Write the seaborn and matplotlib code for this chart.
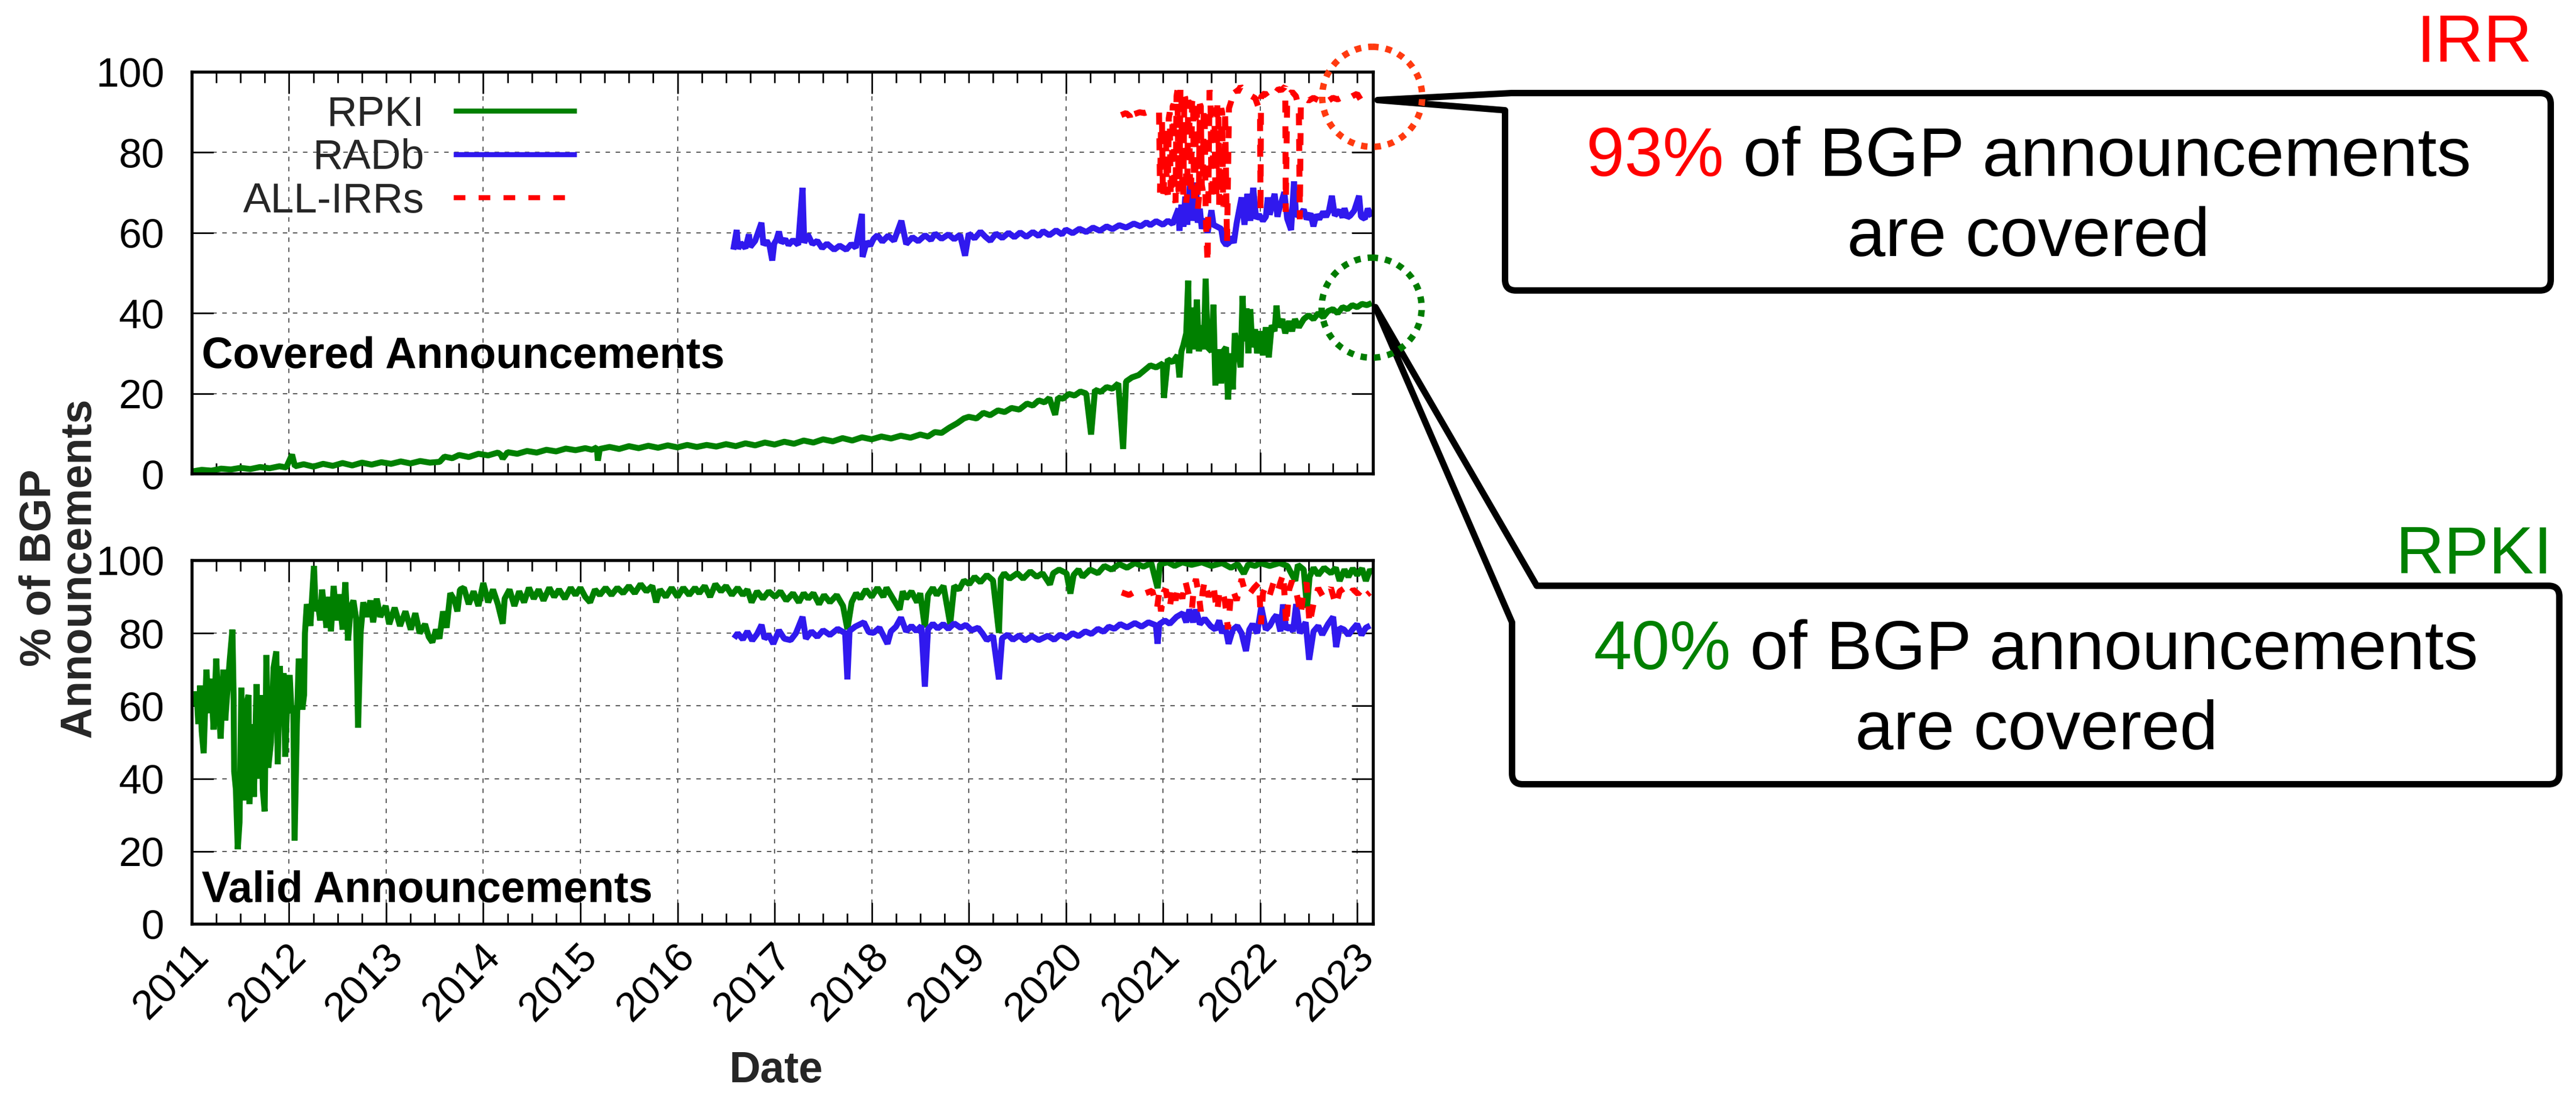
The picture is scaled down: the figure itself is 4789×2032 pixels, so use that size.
import matplotlib
matplotlib.use("Agg")
import matplotlib.pyplot as plt
import matplotlib.transforms as mtransforms
from matplotlib.lines import Line2D
from matplotlib.patches import PathPatch, Ellipse
from matplotlib.path import Path
from matplotlib.ticker import FixedLocator, MultipleLocator
import seaborn as sns

# ---------------- data: decimal year -> percent of BGP announcements ----------------
# Covered announcements (top panel)
rpki_cov_t = [2011.00, 2011.10, 2011.20, 2011.30, 2011.40, 2011.50, 2011.60, 2011.70, 2011.80, 2011.90,
              2011.97, 2012.03, 2012.06, 2012.15, 2012.25, 2012.35, 2012.45, 2012.55, 2012.65, 2012.75,
              2012.85, 2012.95, 2013.05, 2013.15, 2013.25, 2013.35, 2013.45, 2013.55, 2013.60, 2013.68,
              2013.75, 2013.85, 2013.95, 2014.05, 2014.15, 2014.18, 2014.20, 2014.25, 2014.35, 2014.45,
              2014.55, 2014.65, 2014.75, 2014.85, 2014.95, 2015.05, 2015.12, 2015.17, 2015.18, 2015.20,
              2015.30, 2015.40, 2015.50, 2015.60, 2015.70, 2015.80, 2015.90, 2016.00, 2016.10, 2016.20,
              2016.30, 2016.40, 2016.50, 2016.60, 2016.70, 2016.80, 2016.90, 2017.00, 2017.10, 2017.20,
              2017.30, 2017.40, 2017.50, 2017.60, 2017.70, 2017.80, 2017.90, 2018.00, 2018.10, 2018.20,
              2018.30, 2018.40, 2018.50, 2018.58, 2018.65, 2018.72, 2018.80, 2018.88, 2018.95, 2019.00,
              2019.08, 2019.15, 2019.22, 2019.30, 2019.37, 2019.44, 2019.52, 2019.60, 2019.66, 2019.72,
              2019.78, 2019.83, 2019.89, 2019.92, 2019.97, 2020.03, 2020.09, 2020.15, 2020.21, 2020.26,
              2020.30, 2020.36, 2020.42, 2020.48, 2020.54, 2020.59, 2020.62, 2020.68, 2020.75, 2020.81,
              2020.87, 2020.93, 2021.00, 2021.01, 2021.05, 2021.10, 2021.15, 2021.17, 2021.19, 2021.21,
              2021.24, 2021.26, 2021.27, 2021.30, 2021.32, 2021.35, 2021.37, 2021.40, 2021.42, 2021.44,
              2021.46, 2021.50, 2021.52, 2021.54, 2021.57, 2021.60, 2021.62, 2021.65, 2021.67, 2021.70,
              2021.72, 2021.74, 2021.77, 2021.80, 2021.82, 2021.84, 2021.86, 2021.88, 2021.90, 2021.92,
              2021.95, 2021.97, 2022.00, 2022.03, 2022.06, 2022.09, 2022.12, 2022.15, 2022.17, 2022.19,
              2022.23, 2022.26, 2022.30, 2022.33, 2022.36, 2022.40, 2022.45, 2022.50, 2022.55, 2022.60,
              2022.65, 2022.70, 2022.75, 2022.80, 2022.85, 2022.90, 2022.95, 2023.00, 2023.05, 2023.10,
              2023.15]
rpki_cov_v = [0.6, 1.0, 0.8, 1.3, 1.1, 1.5, 1.2, 1.7, 1.4, 1.9,
              1.6, 4.8, 1.9, 2.4, 1.8, 2.5, 2.0, 2.7, 2.1, 2.8,
              2.3, 2.9, 2.5, 3.1, 2.6, 3.2, 2.8, 3.0, 4.3, 3.9,
              4.7, 4.2, 5.0, 4.6, 5.3, 4.8, 3.8, 5.4, 5.0, 5.7,
              5.3, 6.0, 5.6, 6.3, 5.9, 6.4, 6.0, 6.6, 3.3, 6.2,
              6.7, 6.2, 6.9, 6.4, 7.0, 6.5, 7.1, 6.6, 7.2, 6.7,
              7.2, 6.8, 7.4, 6.9, 7.6, 7.1, 7.8, 7.3, 8.0, 7.5,
              8.3, 7.8, 8.6, 8.1, 8.9, 8.3, 9.1, 8.6, 9.3, 8.8,
              9.5, 9.0, 9.8, 9.3, 10.4, 10.2, 11.5, 12.6, 13.8, 14.2,
              13.8, 15.2, 14.6, 15.8, 15.4, 16.4, 16.0, 17.5, 17.0, 18.3,
              17.8, 18.9, 14.7, 19.0, 18.7, 19.9, 19.5, 20.5, 20.0, 9.8,
              20.9, 20.4, 21.6, 21.2, 22.5, 6.2, 23.0, 24.0, 24.6, 25.8,
              27.0, 26.5, 27.5, 18.9, 28.5, 27.8, 29.5, 24.0, 30.5, 32.0,
              35.0, 48.1, 30.0, 41.4, 31.0, 43.4, 30.5, 37.0, 31.0, 48.6,
              31.5, 30.5, 42.1, 22.0, 31.0, 22.5, 30.5, 31.5, 18.5, 30.0,
              21.0, 35.0, 32.0, 26.5, 44.3, 33.0, 41.2, 30.0, 41.0, 31.5,
              36.0, 30.0, 35.5, 29.5, 36.5, 29.0, 37.0, 35.5, 41.9, 36.5,
              38.5, 35.0, 38.0, 35.5, 38.5, 36.5, 38.5, 39.5, 38.5, 40.0,
              39.0, 40.5, 41.0, 40.0, 41.5, 41.0, 42.0, 41.5, 42.3, 42.0,
              42.5]

radb_cov_t = [2016.575, 2016.61, 2016.625, 2016.65, 2016.70, 2016.736, 2016.75, 2016.80, 2016.865, 2016.885,
              2016.92, 2016.95, 2016.976, 2016.996, 2017.02, 2017.045, 2017.07, 2017.11, 2017.144, 2017.19,
              2017.243, 2017.288, 2017.305, 2017.342, 2017.39, 2017.44, 2017.49, 2017.54, 2017.614, 2017.67,
              2017.738, 2017.79, 2017.837, 2017.90, 2017.906, 2017.95, 2017.985, 2018.02, 2018.06, 2018.11,
              2018.17, 2018.23, 2018.306, 2018.356, 2018.42, 2018.48, 2018.55, 2018.61, 2018.653, 2018.72,
              2018.79, 2018.85, 2018.91, 2018.962, 2019.00, 2019.06, 2019.12, 2019.172, 2019.222, 2019.28,
              2019.345, 2019.41, 2019.47, 2019.53, 2019.593, 2019.66, 2019.72, 2019.766, 2019.83, 2019.90,
              2019.96, 2020.00, 2020.07, 2020.14, 2020.21, 2020.28, 2020.35, 2020.42, 2020.48, 2020.55,
              2020.62, 2020.70, 2020.77, 2020.83, 2020.87, 2020.93, 2021.00, 2021.05, 2021.10, 2021.16,
              2021.17, 2021.19, 2021.21, 2021.23, 2021.25, 2021.28, 2021.30, 2021.32, 2021.34, 2021.36,
              2021.38, 2021.40, 2021.43, 2021.46, 2021.50, 2021.52, 2021.56, 2021.60, 2021.62, 2021.65,
              2021.68, 2021.70, 2021.73, 2021.76, 2021.81, 2021.84, 2021.87, 2021.90, 2021.93, 2021.96,
              2021.99, 2022.03, 2022.06, 2022.08, 2022.10, 2022.15, 2022.18, 2022.19, 2022.25, 2022.28,
              2022.32, 2022.35, 2022.37, 2022.41, 2022.45, 2022.48, 2022.52, 2022.55, 2022.58, 2022.61,
              2022.65, 2022.68, 2022.71, 2022.74, 2022.77, 2022.82, 2022.85, 2022.87, 2022.90, 2022.93,
              2022.97, 2023.02, 2023.04, 2023.08, 2023.11, 2023.15]
radb_cov_v = [55.8, 60.7, 56.0, 57.5, 56.2, 59.6, 56.5, 58.0, 62.5, 57.0,
              58.0, 56.6, 53.1, 57.3, 58.3, 60.3, 57.5, 58.4, 57.0, 58.2,
              57.0, 71.2, 57.5, 59.6, 57.2, 58.0, 56.2, 57.3, 55.8, 56.8,
              55.8, 57.2, 56.3, 64.7, 54.0, 57.8, 56.8, 58.5, 59.4, 57.8,
              59.3, 58.0, 63.0, 57.2, 58.9, 57.9, 59.4, 58.2, 59.8, 58.5,
              59.6, 58.4, 59.5, 54.3, 59.8, 58.6, 60.3, 59.0, 58.0, 59.8,
              58.7, 60.0, 58.9, 60.1, 59.0, 60.2, 59.2, 60.4, 59.4, 60.6,
              59.6, 60.8, 59.9, 61.0, 60.2, 61.3, 60.5, 61.6, 60.9, 61.9,
              61.3, 62.3, 61.6, 62.6, 61.9, 62.9, 62.0, 63.0, 62.2, 66.0,
              60.5, 67.0, 61.5, 69.0, 62.0, 72.8, 63.0, 68.0, 72.5, 62.5,
              66.0, 61.0, 63.5, 60.0, 65.6, 62.0, 61.5, 61.0, 58.0, 57.0,
              57.5, 59.0, 57.5, 62.5, 68.8, 62.0, 69.7, 63.0, 71.2, 63.5,
              64.5, 63.0, 64.0, 68.8, 64.5, 69.7, 64.0, 65.2, 70.1, 63.5,
              60.7, 72.8, 64.5, 64.3, 65.8, 63.4, 64.8, 61.6, 64.5, 63.4,
              65.2, 64.0, 65.5, 69.2, 64.3, 65.6, 63.8, 66.1, 63.8, 64.3,
              65.5, 69.2, 64.0, 63.5, 66.0, 64.0]

irr_cov_t = [2020.57, 2020.62, 2020.66, 2020.67, 2020.70, 2020.76, 2020.81, 2020.87, 2020.92, 2020.96,
             2020.97, 2020.98, 2020.99, 2021.00, 2021.01, 2021.02, 2021.03, 2021.04, 2021.05, 2021.06,
             2021.07, 2021.08, 2021.09, 2021.10, 2021.11, 2021.12, 2021.13, 2021.14, 2021.15, 2021.16,
             2021.17, 2021.18, 2021.19, 2021.20, 2021.21, 2021.22, 2021.23, 2021.24, 2021.25, 2021.26,
             2021.27, 2021.28, 2021.29, 2021.30, 2021.31, 2021.32, 2021.33, 2021.34, 2021.35, 2021.36,
             2021.37, 2021.38, 2021.39, 2021.40, 2021.41, 2021.42, 2021.43, 2021.44, 2021.46, 2021.48,
             2021.49, 2021.50, 2021.51, 2021.52, 2021.53, 2021.54, 2021.55, 2021.56, 2021.57, 2021.58,
             2021.59, 2021.60, 2021.61, 2021.62, 2021.63, 2021.64, 2021.66, 2021.68, 2021.70, 2021.74,
             2021.77, 2021.80, 2021.85, 2021.90, 2021.95, 2022.00, 2022.005, 2022.01, 2022.05, 2022.08,
             2022.12, 2022.15, 2022.19, 2022.22, 2022.26, 2022.265, 2022.28, 2022.33, 2022.37, 2022.40,
             2022.41, 2022.42, 2022.46, 2022.50, 2022.55, 2022.60, 2022.65, 2022.70, 2022.75, 2022.80,
             2022.85, 2022.90, 2022.95, 2023.00, 2023.04, 2023.08, 2023.15]
irr_cov_v = [89.3, 89.8, 89.0, 87.5, 89.5, 90.0, 89.8, 90.3, 90.1, 90.0,
             70.0, 86.5, 88.0, 69.0, 71.0, 85.5, 86.0, 70.5, 69.5, 88.5,
             90.0, 69.0, 72.0, 91.5, 92.0, 68.5, 67.5, 94.0, 95.5, 70.5,
             70.0, 96.0, 95.0, 69.0, 68.5, 94.5, 93.5, 67.5, 70.0, 93.0,
             92.0, 71.0, 69.5, 92.5, 93.5, 68.0, 67.0, 93.0, 92.5, 66.0,
             68.5, 92.0, 91.5, 72.0, 70.5, 91.0, 89.0, 64.5, 52.5, 95.5,
             94.0, 69.0, 68.0, 91.0, 90.5, 70.0, 68.5, 92.0, 91.0, 67.0,
             69.0, 91.0, 90.0, 66.5, 67.5, 90.5, 57.5, 91.0, 92.5, 96.0,
             95.0, 96.4, 95.0, 94.2, 93.5, 90.2, 65.2, 93.8, 94.8, 93.8,
             95.0, 94.5, 95.8, 95.5, 96.4, 65.2, 94.0, 95.1, 94.0, 91.0,
             63.4, 92.0, 93.5, 92.9, 93.6, 93.0, 93.8, 92.8, 93.6, 93.2,
             93.8, 93.3, 94.0, 94.6, 93.0, 93.2, 93.0]

# Valid announcements (bottom panel)
rpki_val_t = [2011.037, 2011.046, 2011.065, 2011.083, 2011.10, 2011.12, 2011.148, 2011.175, 2011.194, 2011.222,
              2011.249, 2011.277, 2011.295, 2011.323, 2011.342, 2011.37, 2011.388, 2011.416, 2011.428, 2011.434,
              2011.452, 2011.471, 2011.489, 2011.508, 2011.526, 2011.554, 2011.582, 2011.591, 2011.619, 2011.637,
              2011.665, 2011.683, 2011.711, 2011.729, 2011.748, 2011.766, 2011.785, 2011.813, 2011.84, 2011.868,
              2011.883, 2011.905, 2011.923, 2011.942, 2011.96, 2011.979, 2012.006, 2012.025, 2012.043, 2012.056,
              2012.08, 2012.099, 2012.117, 2012.136, 2012.154, 2012.163, 2012.182, 2012.20, 2012.219, 2012.237,
              2012.256, 2012.274, 2012.293, 2012.32, 2012.339, 2012.367, 2012.385, 2012.413, 2012.431, 2012.459,
              2012.487, 2012.514, 2012.551, 2012.579, 2012.607, 2012.634, 2012.662, 2012.69, 2012.71, 2012.736,
              2012.764, 2012.80, 2012.837, 2012.865, 2012.902, 2012.939, 2012.994, 2013.031, 2013.087, 2013.142,
              2013.198, 2013.253, 2013.30, 2013.345, 2013.40, 2013.438, 2013.475, 2013.512, 2013.548, 2013.585,
              2013.622, 2013.66, 2013.705, 2013.733, 2013.76, 2013.80, 2013.85, 2013.90, 2013.95, 2014.00,
              2014.05, 2014.10, 2014.15, 2014.20, 2014.22, 2014.27, 2014.32, 2014.37, 2014.42, 2014.47,
              2014.52, 2014.57, 2014.62, 2014.68, 2014.73, 2014.78, 2014.84, 2014.90, 2014.95, 2015.00,
              2015.05, 2015.10, 2015.15, 2015.20, 2015.26, 2015.32, 2015.38, 2015.44, 2015.50, 2015.56,
              2015.62, 2015.68, 2015.74, 2015.78, 2015.82, 2015.88, 2015.94, 2016.00, 2016.06, 2016.12,
              2016.18, 2016.224, 2016.28, 2016.336, 2016.39, 2016.448, 2016.50, 2016.56, 2016.62, 2016.673,
              2016.72, 2016.763, 2016.82, 2016.88, 2016.94, 2017.005, 2017.06, 2017.12, 2017.19, 2017.25,
              2017.30, 2017.346, 2017.40, 2017.458, 2017.51, 2017.57, 2017.64, 2017.705, 2017.75, 2017.794,
              2017.84, 2017.884, 2017.94, 2018.00, 2018.06, 2018.12, 2018.153, 2018.22, 2018.288, 2018.32,
              2018.355, 2018.41, 2018.468, 2018.50, 2018.548, 2018.58, 2018.63, 2018.67, 2018.74, 2018.809,
              2018.85, 2018.90, 2018.95, 2019.006, 2019.06, 2019.12, 2019.186, 2019.25, 2019.311, 2019.33,
              2019.365, 2019.42, 2019.50, 2019.56, 2019.634, 2019.70, 2019.76, 2019.836, 2019.87, 2019.93,
              2020.007, 2020.047, 2020.08, 2020.13, 2020.173, 2020.25, 2020.33, 2020.397, 2020.47, 2020.55,
              2020.63, 2020.711, 2020.80, 2020.88, 2020.945, 2020.97, 2021.05, 2021.12, 2021.20, 2021.295,
              2021.40, 2021.50, 2021.609, 2021.70, 2021.77, 2021.833, 2021.88, 2021.95, 2022.00, 2022.10,
              2022.20, 2022.282, 2022.363, 2022.39, 2022.45, 2022.484, 2022.51, 2022.551, 2022.60, 2022.66,
              2022.731, 2022.78, 2022.82, 2022.87, 2022.91, 2022.955, 2023.00, 2023.05, 2023.09, 2023.134,
              2023.16]
rpki_val_v = [60.0, 64.0, 55.0, 65.6, 53.0, 47.0, 70.0, 58.0, 67.5, 53.5,
              73.0, 58.0, 51.0, 70.0, 56.0, 66.0, 72.5, 81.0, 63.0, 42.0,
              37.0, 20.6, 28.0, 65.0, 34.0, 60.0, 63.0, 33.0, 55.0, 35.0,
              66.0, 40.0, 63.0, 37.0, 31.0, 74.0, 43.0, 50.0, 70.5, 75.0,
              44.0, 71.0, 55.0, 69.0, 46.0, 60.0, 68.5, 58.0, 60.0, 23.0,
              55.0, 73.0, 64.0, 59.0, 63.0, 80.0, 88.0, 85.5, 82.0, 90.0,
              98.5, 86.0, 89.0, 83.5, 92.0, 86.0, 81.5, 90.0, 80.5, 93.0,
              83.5, 90.7, 81.0, 94.0, 78.0, 87.0, 89.0, 84.0, 54.0, 80.0,
              88.5, 84.5, 89.0, 83.0, 89.5, 84.5, 87.5, 82.5, 87.0, 82.0,
              86.0, 81.0, 85.5, 80.0, 82.5, 79.0, 77.5, 81.0, 78.5, 86.0,
              81.5, 91.0, 89.0, 86.0, 92.0, 92.5, 88.0, 91.5, 87.5, 93.8,
              88.5, 92.0, 88.0, 82.6, 89.5, 92.0, 87.5, 91.5, 88.5, 92.5,
              89.5, 92.0, 89.0, 92.5, 90.0, 92.0, 89.5, 92.5, 90.5, 92.5,
              90.0, 88.5, 92.0, 90.5, 92.5, 90.5, 92.5, 91.0, 93.0, 91.0,
              93.5, 91.5, 93.0, 88.5, 92.0, 90.0, 92.5, 90.0, 92.5, 90.5,
              92.5, 91.0, 93.0, 90.0, 93.5, 91.5, 93.0, 90.5, 92.5, 90.5,
              92.0, 88.5, 91.5, 89.5, 91.5, 90.0, 91.5, 89.0, 91.0, 88.5,
              91.0, 89.5, 91.0, 88.0, 90.5, 88.5, 90.5, 87.5, 81.1, 88.5,
              91.0, 89.5, 92.0, 90.0, 92.5, 90.0, 92.5, 89.5, 86.5, 91.5,
              89.5, 91.5, 88.5, 91.0, 81.6, 90.5, 92.5, 90.5, 93.0, 82.5,
              93.0, 92.0, 94.5, 93.5, 95.5, 94.0, 96.0, 94.5, 80.1, 95.0,
              96.5, 95.0, 96.5, 95.0, 97.0, 95.5, 96.5, 93.4, 96.5, 97.5,
              96.5, 90.9, 96.0, 97.5, 95.5, 97.5, 96.5, 98.5, 97.5, 99.0,
              98.0, 99.3, 98.3, 99.3, 92.4, 99.0, 99.5, 98.5, 99.5, 98.8,
              99.5, 98.5, 99.3, 98.0, 99.0, 96.4, 99.0, 98.5, 99.3, 98.5,
              99.3, 98.5, 94.4, 98.8, 97.5, 87.0, 95.5, 98.0, 96.0, 98.0,
              96.5, 98.0, 94.4, 97.5, 95.5, 97.8, 96.0, 97.8, 94.4, 97.5,
              96.5]

radb_val_t = [2016.583, 2016.62, 2016.673, 2016.72, 2016.77, 2016.82, 2016.866, 2016.897, 2016.94, 2016.987,
              2017.045, 2017.10, 2017.166, 2017.22, 2017.288, 2017.323, 2017.38, 2017.44, 2017.50, 2017.57,
              2017.65, 2017.727, 2017.75, 2017.772, 2017.83, 2017.92, 2017.97, 2018.019, 2018.08, 2018.163,
              2018.198, 2018.25, 2018.302, 2018.355, 2018.41, 2018.46, 2018.512, 2018.548, 2018.58, 2018.63,
              2018.68, 2018.737, 2018.79, 2018.85, 2018.916, 2018.97, 2019.03, 2019.096, 2019.14, 2019.186,
              2019.25, 2019.311, 2019.343, 2019.40, 2019.455, 2019.52, 2019.58, 2019.65, 2019.72, 2019.814,
              2019.88, 2019.94, 2020.007, 2020.07, 2020.13, 2020.20, 2020.263, 2020.33, 2020.39, 2020.442,
              2020.50, 2020.56, 2020.63, 2020.711, 2020.78, 2020.85, 2020.927, 2020.945, 2020.963, 2021.02,
              2021.07, 2021.14, 2021.205, 2021.24, 2021.272, 2021.31, 2021.34, 2021.38, 2021.43, 2021.49,
              2021.541, 2021.58, 2021.609, 2021.64, 2021.676, 2021.72, 2021.766, 2021.81, 2021.855, 2021.89,
              2021.923, 2021.97, 2022.013, 2022.06, 2022.102, 2022.14, 2022.17, 2022.21, 2022.237, 2022.27,
              2022.304, 2022.34, 2022.372, 2022.41, 2022.439, 2022.47, 2022.506, 2022.551, 2022.60, 2022.641,
              2022.70, 2022.753, 2022.784, 2022.82, 2022.865, 2022.91, 2022.955, 2023.00, 2023.045, 2023.09,
              2023.134]
radb_val_v = [78.6, 80.0, 78.3, 80.5, 78.0, 79.8, 82.3, 78.5, 79.5, 77.1,
              80.8, 78.5, 78.1, 80.0, 84.5, 78.5, 80.5, 79.0, 80.8, 79.5,
              81.2, 80.0, 67.3, 80.6, 81.8, 83.0, 80.3, 80.1, 81.5, 77.1,
              80.5, 81.8, 84.3, 80.5, 82.0, 80.6, 82.0, 65.3, 81.1, 82.6,
              81.3, 82.5, 81.2, 82.7, 81.5, 82.3, 80.8, 81.5, 80.0, 78.1,
              79.3, 67.3, 78.6, 79.6, 78.2, 79.4, 78.0, 79.2, 78.1, 79.3,
              78.2, 79.6, 78.7, 80.0, 79.2, 80.5, 79.8, 81.2, 80.4, 81.8,
              81.2, 82.5, 81.6, 82.8, 81.8, 83.0, 82.2, 77.1, 82.5, 83.5,
              82.6, 84.5, 85.5, 83.0, 86.5, 83.0, 86.5, 82.5, 84.0, 82.0,
              81.0, 83.5, 80.0, 82.0, 77.1, 81.0, 82.0, 80.0, 75.1, 81.0,
              82.5, 80.0, 87.2, 81.0, 82.1, 84.0, 85.0, 80.5, 87.9, 81.0,
              82.0, 80.5, 88.0, 80.0, 81.5, 83.0, 72.7, 80.5, 82.0, 79.6,
              82.5, 84.5, 76.2, 81.5, 81.0, 79.5, 81.1, 82.5, 79.5, 81.5,
              82.1]

irr_val_t = [2020.576, 2020.65, 2020.71, 2020.80, 2020.89, 2020.94, 2020.96, 2020.98, 2021.01, 2021.03,
             2021.05, 2021.07, 2021.10, 2021.13, 2021.16, 2021.20, 2021.23, 2021.27, 2021.30, 2021.32,
             2021.34, 2021.37, 2021.39, 2021.41, 2021.43, 2021.47, 2021.52, 2021.54, 2021.56, 2021.58,
             2021.61, 2021.64, 2021.67, 2021.70, 2021.72, 2021.76, 2021.81, 2021.85, 2021.88, 2021.94,
             2021.99, 2022.01, 2022.03, 2022.06, 2022.10, 2022.14, 2022.18, 2022.24, 2022.27, 2022.30,
             2022.33, 2022.38, 2022.42, 2022.45, 2022.48, 2022.51, 2022.55, 2022.60, 2022.65, 2022.69,
             2022.73, 2022.78, 2022.82, 2022.87, 2022.92, 2022.96, 2023.01, 2023.06, 2023.10, 2023.13]
irr_val_v = [91.2, 90.5, 91.4, 90.8, 91.7, 87.0, 91.0, 86.0, 91.5, 92.0,
             88.5, 87.0, 92.5, 89.0, 92.9, 89.5, 94.4, 90.0, 87.0, 93.0,
             94.9, 90.5, 86.0, 91.5, 94.4, 90.0, 93.4, 89.0, 86.0, 91.0,
             92.0, 88.5, 81.1, 90.5, 92.0, 89.0, 94.9, 91.0, 90.4, 92.5,
             93.9, 82.5, 91.0, 92.9, 90.5, 94.0, 91.5, 96.4, 82.1, 92.0,
             94.4, 90.5, 85.0, 92.0, 93.9, 82.5, 88.0, 92.4, 90.0, 90.4,
             92.5, 87.7, 91.5, 92.4, 90.5, 92.0, 90.8, 92.5, 90.5, 91.2]

series_names = ["RPKI", "RADb", "ALL-IRRs"]
year_labels = list(range(2011, 2024))
callouts = [("IRR", "93%"), ("RPKI", "40%")]

# ---------------- styling ----------------
GREEN = "#008000"
BLUE = "#3019ee"
RED = "#ff0000"
CIRCLE_RED = "#ff3a10"
CIRCLE_GREEN = "#007c00"
LW = 4.0
IRR_DASH = (2.0, 2.3)

sns.set_theme(style="ticks")
plt.rcParams["font.family"] = ["Liberation Sans", "DejaVu Sans"]
plt.rcParams["axes.unicode_minus"] = False

W, H, DPI = 4789, 2032, 200
fig = plt.figure(figsize=(W / DPI, H / DPI), dpi=DPI)
fig.patch.set_facecolor("white")
# pixel coordinates measured from the top-left corner of the figure
PX = mtransforms.Affine2D().scale(1 / W, -1 / H).translate(0, 1) + fig.transFigure

X0 = 2011.0
X1 = 2011.0 + (2553 - 357) / 180.5

ax_top = fig.add_axes([357 / W, 1 - 881 / H, (2553 - 357) / W, (881 - 134) / H])
ax_bot = fig.add_axes([357 / W, 1 - 1718 / H, (2553 - 357) / W, (1718 - 1042) / H])


def style_axes(ax, majors):
    ax.set_xlim(X0, X1)
    ax.set_ylim(0, 100)
    ax.xaxis.set_major_locator(FixedLocator(majors))
    ax.xaxis.set_minor_locator(MultipleLocator(0.25))
    ax.yaxis.set_major_locator(FixedLocator(list(range(0, 101, 20))))
    ax.tick_params(which="both", direction="in", top=True, right=True,
                   width=1.1, color="black", labelsize=27.5, labelcolor="black")
    ax.tick_params(which="major", length=14.4)
    ax.tick_params(which="minor", length=7.2)
    ax.tick_params(axis="y", pad=18.5)
    ax.grid(True, which="major", color="#555555", linewidth=0.75, linestyle=(0, (4, 5)))
    ax.set_facecolor("white")
    for s in ax.spines.values():
        s.set_visible(True)
        s.set_linewidth(2.0)
        s.set_color("black")
    ax.set_xlabel("")
    ax.set_ylabel("")


def draw_series(ax, t, v, color, dashed=False):
    sns.lineplot(x=t, y=v, ax=ax, color=color, linewidth=LW, estimator=None,
                 sort=False, legend=False)
    line = ax.get_lines()[-1]
    line.set_solid_joinstyle("bevel")
    line.set_solid_capstyle("butt")
    if dashed:
        line.set_dashes(IRR_DASH)
        line.set_dash_capstyle("butt")
        line.set_dash_joinstyle("bevel")
    return line


draw_series(ax_top, rpki_cov_t, rpki_cov_v, GREEN)
draw_series(ax_top, radb_cov_t, radb_cov_v, BLUE)
draw_series(ax_top, irr_cov_t, irr_cov_v, RED, dashed=True)

draw_series(ax_bot, rpki_val_t, rpki_val_v, GREEN)
draw_series(ax_bot, radb_val_t, radb_val_v, BLUE)
draw_series(ax_bot, irr_val_t, irr_val_v, RED, dashed=True)

style_axes(ax_top, list(range(2012, 2023, 2)))
style_axes(ax_bot, year_labels)
ax_top.tick_params(axis="x", labelbottom=False)
ax_bot.tick_params(axis="x", pad=0)

ax_bot.set_xticks(year_labels)
ax_bot.set_xticklabels([str(y) for y in year_labels])
offset = mtransforms.ScaledTranslation(34 / DPI, -63 / DPI, fig.dpi_scale_trans)
for lab in ax_bot.get_xticklabels():
    lab.set_rotation(45)
    lab.set_rotation_mode("anchor")
    lab.set_ha("right")
    lab.set_va("baseline")
    lab.set_transform(lab.get_transform() + offset)

# panel captions
ax_top.text((375 - 357) / 2196, (881 - 684) / 747, "Covered Announcements",
            transform=ax_top.transAxes, fontsize=29, fontweight="bold",
            ha="left", va="baseline", color="black")
ax_bot.text((375 - 357) / 2196, (1718 - 1677) / 676, "Valid Announcements",
            transform=ax_bot.transAxes, fontsize=29, fontweight="bold",
            ha="left", va="baseline", color="black")

# legend (labels right-aligned, sample lines on the right)
handles = [Line2D([], [], color=GREEN, lw=3.4, solid_capstyle="butt"),
           Line2D([], [], color=BLUE, lw=3.4, solid_capstyle="butt"),
           Line2D([], [], color=RED, lw=3.4, dashes=(2.3, 2.6), dash_capstyle="butt")]
ax_top.legend(handles, series_names, loc="upper right",
              bbox_to_anchor=((1072 - 357) / 2196, (881 - 176) / 747),
              markerfirst=False, frameon=False, fontsize=28,
              handlelength=2.95, handletextpad=0.69, labelspacing=0.1,
              borderpad=0, borderaxespad=0)

# axis titles
ax_bot.set_xlabel("Date", fontsize=29, fontweight="bold")
ax_bot.xaxis.set_label_coords((1443 - 357) / 2196, -0.348)
fig.text(110 / W, 1 - 1056 / H, "% of BGP\nAnnouncements", rotation=90,
         ha="center", va="center", multialignment="center",
         fontsize=29, fontweight="bold", linespacing=0.98)


# ---------------- call-out boxes ----------------
def bubble(tip, top_join, left_join, left, top, right, bottom, r=20):
    verts = [tip, top_join,
             (right - r, top), (right, top), (right, top + r),
             (right, bottom - r), (right, bottom), (right - r, bottom),
             (left + r, bottom), (left, bottom), (left, bottom - r),
             left_join, tip]
    codes = [Path.MOVETO, Path.LINETO,
             Path.LINETO, Path.CURVE3, Path.CURVE3,
             Path.LINETO, Path.CURVE3, Path.CURVE3,
             Path.LINETO, Path.CURVE3, Path.CURVE3,
             Path.LINETO, Path.CLOSEPOLY]
    patch = PathPatch(Path(verts, codes), facecolor="white", edgecolor="black",
                      linewidth=4.3, joinstyle="round", transform=PX, zorder=5)
    fig.add_artist(patch)


bubble((2561, 186), (2810, 173), (2798, 205), 2798, 173, 4742, 540)
bubble((2557, 571), (2857, 1089), (2811, 1157), 2811, 1089, 4758, 1458)

for (x0, base1, base2, cx, head), (name, pct), col in zip(
        [(3205, 327, 476, 3771, 115), (3218, 1244, 1393, 3786, 1066)], callouts, [RED, GREEN]):
    fig.text(x0, base1, pct, transform=PX, fontsize=46, color=col,
             ha="right", va="baseline", zorder=6)
    fig.text(x0, base1, " of BGP announcements", transform=PX, fontsize=46, color="black",
             ha="left", va="baseline", zorder=6)
    fig.text(cx, base2, "are covered", transform=PX, fontsize=46, color="black",
             ha="center", va="baseline", zorder=6)

fig.text(4708, 115, "IRR", transform=PX, fontsize=45, color=RED, ha="right", va="baseline")
fig.text(4746, 1066, "RPKI", transform=PX, fontsize=45, color=GREEN, ha="right", va="baseline")

# dotted highlight circles at the latest values
for (cx, cy), col in [((2551, 180), CIRCLE_RED), ((2550, 572), CIRCLE_GREEN)]:
    circ = Ellipse((cx, cy), 186, 186, transform=PX, fill=False, edgecolor=col,
                   linewidth=4.3, linestyle=(0, (1.0, 1.1)), capstyle="butt", zorder=7)
    fig.add_artist(circ)

fig.savefig("out.png", dpi=DPI, facecolor="white")
